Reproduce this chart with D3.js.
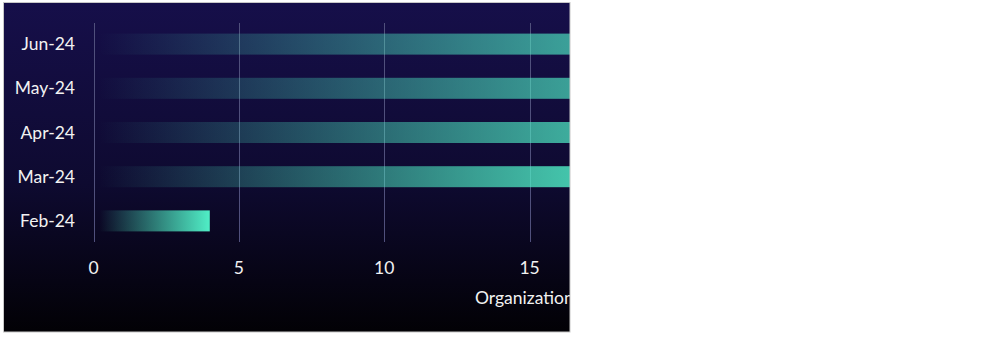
<!DOCTYPE html>
<html><head><meta charset="utf-8">
<script src="https://cdn.jsdelivr.net/npm/d3@7"></script>
<style>html,body{margin:0;padding:0;background:#fff;}svg{display:block;}</style>
</head><body><svg id="c" width="1000" height="337"></svg>
<script>
const categories = ["Jun-24","May-24","Apr-24","Mar-24","Feb-24"];
const values = [25, 25, 23, 20, 4];
const xTicks = [0, 5, 10, 15, 20, 25, 30];
const axisTitle = "Organizations";

const svg = d3.select("#c");
const defs = svg.append("defs");
const bg = defs.append("linearGradient").attr("id","bg").attr("x1",0).attr("y1",0).attr("x2",0).attr("y2",1);
bg.append("stop").attr("offset","0%").attr("stop-color","#160f4a");
bg.append("stop").attr("offset","55%").attr("stop-color","#0e0a30");
bg.append("stop").attr("offset","100%").attr("stop-color","#020105");
const bar = defs.append("linearGradient").attr("id","bar").attr("x1",0).attr("y1",0).attr("x2",1).attr("y2",0);
bar.append("stop").attr("offset","0%").attr("stop-color","#50eec6").attr("stop-opacity",0.0);
bar.append("stop").attr("offset","100%").attr("stop-color","#50eec6").attr("stop-opacity",1);
defs.append("clipPath").attr("id","clip").append("rect").attr("x",3.5).attr("y",2.5).attr("width",566.5).attr("height",329.5);

const panel = svg.append("g").attr("clip-path","url(#clip)");
panel.append("rect").attr("x",3.5).attr("y",2.5).attr("width",566.5).attr("height",329.5).attr("fill","url(#bg)");

const x = d3.scaleLinear().domain([0,30]).range([93.5, 965.6]);
const y = d3.scalePoint().domain(categories).range([22, 243]).padding(0.5);
const bh = 21;
const font = "Lato, 'Open Sans', sans-serif";
const fs = 17.5;

panel.append("g").selectAll("line").data(xTicks).join("line")
  .attr("x1",d=>Math.round(x(d))+0.5).attr("x2",d=>Math.round(x(d))+0.5)
  .attr("y1",23).attr("y2",242)
  .attr("stroke","#50507c").attr("stroke-width",1);

panel.append("g").selectAll("rect").data(values).join("rect")
  .attr("x", x(0)+6)
  .attr("y",(d,i)=>y(categories[i])-bh/2)
  .attr("width",d=>x(d)-x(0)-6)
  .attr("height",bh)
  .attr("fill","url(#bar)");

panel.append("g").selectAll("text").data(categories).join("text")
  .attr("x",75).attr("y",d=>y(d)+6)
  .attr("text-anchor","end")
  .attr("font-family",font).attr("font-size",fs)
  .attr("fill","#f2f2f2").text(d=>d);

panel.append("g").selectAll("text").data(xTicks).join("text")
  .attr("x",d=>x(d)).attr("y",274)
  .attr("text-anchor","middle")
  .attr("font-family",font).attr("font-size",fs)
  .attr("fill","#f2f2f2").text(d=>d);

panel.append("text").attr("x",475).attr("y",304)
  .attr("font-family",font).attr("font-size",fs)
  .attr("fill","#f2f2f2").text(axisTitle);

svg.append("rect").attr("x",3.5).attr("y",2.5).attr("width",566.5).attr("height",329.5)
  .attr("fill","none").attr("stroke","#c8c8c8").attr("stroke-width",1);
</script></body></html>
